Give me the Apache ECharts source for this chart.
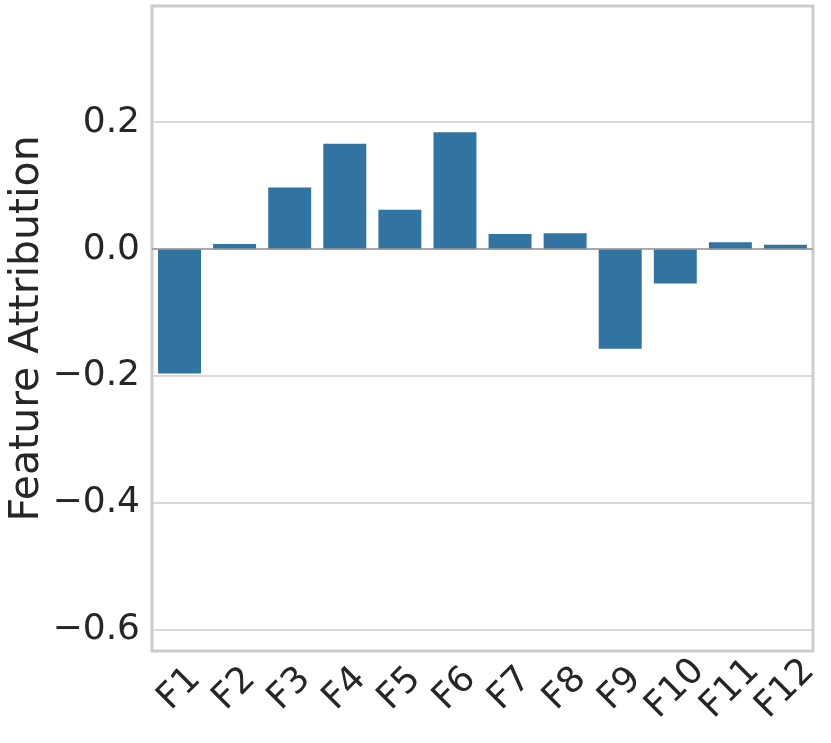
<!DOCTYPE html>
<html><head><meta charset="utf-8">
<script src="https://cdn.jsdelivr.net/npm/echarts@6/dist/echarts.min.js"></script>
<style>html,body{margin:0;padding:0;background:#fff}#c{width:831px;height:743px}</style>
</head><body><div id="c"></div>
<script>
var categories = ['F1','F2','F3','F4','F5','F6','F7','F8','F9','F10','F11','F12'];
var values = [-0.196, 0.008, 0.097, 0.166, 0.062, 0.184, 0.024, 0.025, -0.157, -0.054, 0.011, 0.007];
var yLabel = 'Feature Attribution';
var yMin = -0.633, yMax = 0.383;

var chart = echarts.init(document.getElementById('c'), null, {renderer:'canvas'});
var font = 'DejaVu Sans';
function fmt(v){
  var r = Math.round(v*10)/10;
  if (Math.abs(v - r) > 1e-6 || Math.abs(Math.round(r*10)) % 2 !== 0) return '';
  if (Math.abs(r) < 1e-9) return '0.0';
  return (r < 0 ? '\u2212' : '') + Math.abs(r).toFixed(1);
}
chart.setOption({
  animation:false,
  grid:{left:152, right:18, top:6, bottom:92, containLabel:false, outerBoundsMode:'none', show:true, borderColor:'#cccccc', borderWidth:3, backgroundColor:'#ffffff'},
  xAxis:{type:'category', data:categories,
    axisLine:{show:false}, axisTick:{show:false}, splitLine:{show:false},
    axisLabel:{rotate:45, align:'center', verticalAlign:'middle', margin:38, fontFamily:font, fontSize:36, color:'#262626', interval:0}
  },
  yAxis:{type:'value', min:yMin, max:yMax, splitNumber:5,
    name:yLabel, nameLocation:'middle', nameGap:104, nameMoveOverlap:false, nameTextStyle:{fontFamily:font, fontSize:41, color:'#262626'},
    axisLine:{show:false}, axisTick:{show:false},
    splitLine:{show:true, lineStyle:{color:'#cccccc', width:1.6}},
    axisLabel:{formatter:fmt, fontFamily:font, fontSize:36, color:'#262626', margin:12, showMinLabel:false, showMaxLabel:false}
  },
  series:[{type:'bar', data:values, barWidth:'78%', itemStyle:{color:'#3274a1'},
    markLine:{silent:true, symbol:'none', label:{show:false}, lineStyle:{color:'#999999', width:1.6, type:'solid'}, data:[{yAxis:0}]}
  }]
});
</script></body></html>
